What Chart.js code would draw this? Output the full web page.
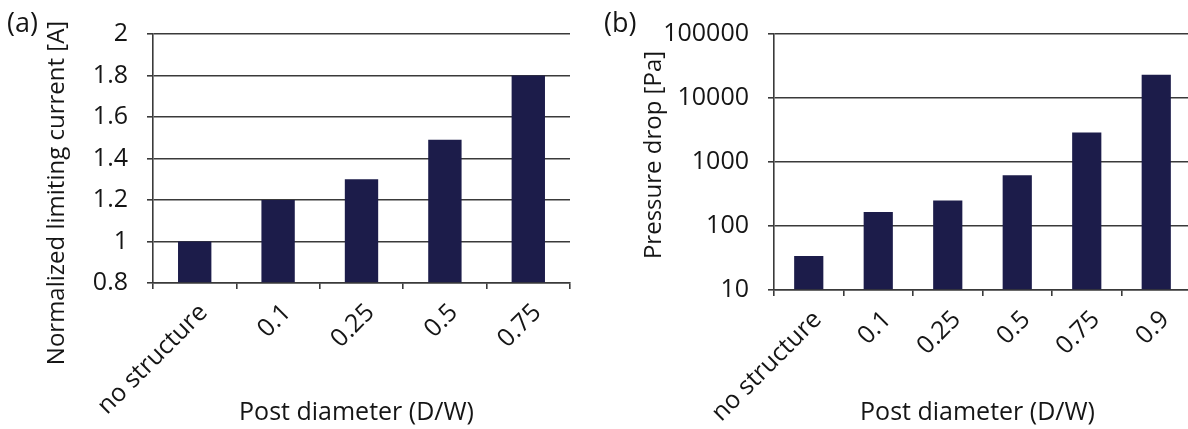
<!DOCTYPE html>
<html>
<head>
<meta charset="utf-8">
<script src="https://cdn.jsdelivr.net/npm/chart.js@4.4.1/dist/chart.umd.min.js"></script>
<style>
  html, body { margin: 0; padding: 0; background: #fff; overflow: hidden; }
  #chartA { position: absolute; left: 0; top: 0; }
  #chartB { position: absolute; left: 594px; top: 0; }
</style>
</head>
<body>
<canvas id="chartA" width="594" height="429"></canvas>
<canvas id="chartB" width="600" height="429"></canvas>
<script>
// (a) normalized limiting current vs post diameter
const labelsA = ['no structure', '0.1', '0.25', '0.5', '0.75'];
const currentA = [1.0, 1.2, 1.3, 1.49, 1.8];
const ticksA = [0.8, 1, 1.2, 1.4, 1.6, 1.8, 2];

// (b) pressure drop vs post diameter (log axis)
const labelsB = ['no structure', '0.1', '0.25', '0.5', '0.75', '0.9'];
const pressureB = [34, 165, 250, 620, 2900, 23000];
const ticksB = [10, 100, 1000, 10000, 100000];

const FONT = '"Open Sans", sans-serif';
const INK = '#151515';
const LINE = '#3a3a3a';
const BAR = '#1c1c4a';

// draws panel letter and both axis titles
const axisText = {
  id: 'axisText',
  afterDraw(chart, args, o) {
    const { ctx, chartArea } = chart;
    ctx.save();
    ctx.fillStyle = INK;
    ctx.textBaseline = 'alphabetic';

    ctx.font = `27px ${FONT}`;
    ctx.textAlign = 'left';
    ctx.fillText(o.panel, o.panelX, 32);

    ctx.font = `25px ${FONT}`;
    ctx.textAlign = 'center';
    ctx.fillText(o.xTitle, (chartArea.left + chartArea.right) / 2 - 5, 420);

    ctx.font = `24px ${FONT}`;
    ctx.translate(o.yTitleX, o.yTitleY);
    ctx.rotate(-Math.PI / 2);
    ctx.fillText(o.yTitle, 0, 0);
    ctx.restore();
  }
};

function buildChart(id, cfg) {
  const n = cfg.labels.length;
  return new Chart(document.getElementById(id), {
    type: 'bar',
    data: {
      labels: cfg.labels,
      datasets: [{
        data: cfg.values,
        base: cfg.min,
        backgroundColor: BAR,
        borderWidth: 0,
        barPercentage: cfg.barPct,
        categoryPercentage: 1
      }]
    },
    options: {
      responsive: false,
      animation: false,
      layout: { padding: cfg.padding },
      plugins: {
        legend: { display: false },
        tooltip: { enabled: false },
        axisText: cfg.text
      },
      scales: {
        x: {
          offset: true,
          afterFit: s => { s.height = cfg.xHeight; },
          grid: {
            offset: true,
            drawOnChartArea: true,
            // only the closing boundary line shows inside the plot
            color: c => (cfg.rightFrame && c.index === n) ? LINE : 'rgba(0,0,0,0)',
            tickColor: LINE,
            tickLength: 6,
            lineWidth: 1.6
          },
          border: { display: true, color: LINE, width: 1.6 },
          ticks: {
            autoSkip: false,
            maxRotation: 45,
            minRotation: 45,
            padding: 9,
            labelOffset: 9,
            color: INK,
            font: { family: FONT, size: 25 }
          }
        },
        y: {
          type: cfg.log ? 'logarithmic' : 'linear',
          min: cfg.min,
          max: cfg.max,
          afterFit: s => { s.width = cfg.yWidth; },
          afterBuildTicks: s => { s.ticks = cfg.ticks.map(v => ({ value: v })); },
          grid: { color: LINE, lineWidth: 1.6, tickLength: 6, tickColor: LINE },
          border: { display: true, color: LINE, width: 1.6 },
          ticks: {
            padding: 19,
            color: INK,
            font: { family: FONT, size: 25 },
            callback: v => String(+Number(v).toFixed(1))
          }
        }
      }
    },
    plugins: [axisText]
  });
}

buildChart('chartA', {
  labels: labelsA, values: currentA, ticks: ticksA,
  min: 0.8, max: 2, log: false, barPct: 0.4, rightFrame: true,
  padding: { top: 21, right: 24, left: 0, bottom: 0 },
  yWidth: 153, xHeight: 146,
  text: {
    panel: '(a)', panelX: 7,
    xTitle: 'Post diameter (D/W)',
    yTitle: 'Normalized limiting current [A]', yTitleX: 64, yTitleY: 193
  }
});

buildChart('chartB', {
  labels: labelsB, values: pressureB, ticks: ticksB,
  min: 10, max: 100000, log: true, barPct: 0.42, rightFrame: false,
  padding: { top: 21, right: 3, left: 0, bottom: 0 },
  yWidth: 180, xHeight: 139,
  text: {
    panel: '(b)', panelX: 10,
    xTitle: 'Post diameter (D/W)',
    yTitle: 'Pressure drop [Pa]', yTitleX: 67, yTitleY: 155
  }
});
</script>
</body>
</html>
